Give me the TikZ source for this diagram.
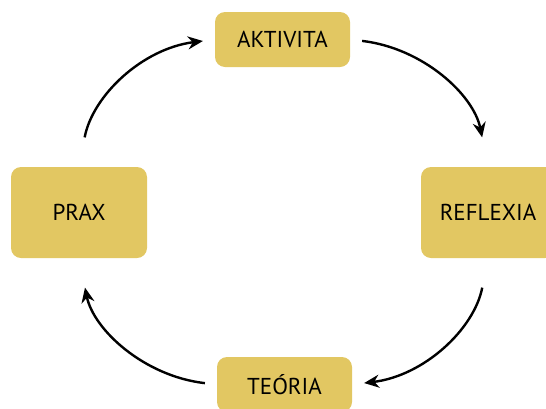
\documentclass[tikz,border=0pt]{standalone}
\usepackage{fontspec}
\setmainfont{PT Sans}
\usetikzlibrary{positioning, arrows.meta}
\definecolor{gold}{RGB}{226,199,98}

\begin{document}
\begin{tikzpicture}[x=1pt, y=1pt,
    box/.style={fill=gold, rounded corners=10pt, font=\fontsize{23}{27}\selectfont, align=center},
    cyc/.style={-{Stealth[length=15pt, width=13pt]}, line width=2.4pt}]
            \clip (0,0) rectangle (546,-408);
            \useasboundingbox (0,0) rectangle (546,-408);

            \node [box, minimum width=135pt, minimum height=55pt] (akt) at (282.5, -39.5) {AKTIVITA};
            \node [box, minimum width=134pt, minimum height=91pt] (ref) at (488, -212.5) {REFLEXIA};
            \node [box, minimum width=135pt, minimum height=55pt] (teo) at (284.5, -384.5) {TEÓRIA};
            \node [box, minimum width=136pt, minimum height=91pt] (prax) at (79, -212.5) {PRAX};

            \draw [cyc, shorten <=12pt, shorten >=30pt] (akt.east) to [bend left=36] (ref.north);
            \draw [cyc, shorten <=30pt, shorten >=12pt] (ref.south) to [bend left=36] (teo.east);
            \draw [cyc, shorten <=12pt, shorten >=30pt] (teo.west) to [bend left=36] (prax.south);
            \draw [cyc, shorten <=30pt, shorten >=12pt] (prax.north) to [bend left=36] (akt.west);
        \end{tikzpicture}
\end{document}
